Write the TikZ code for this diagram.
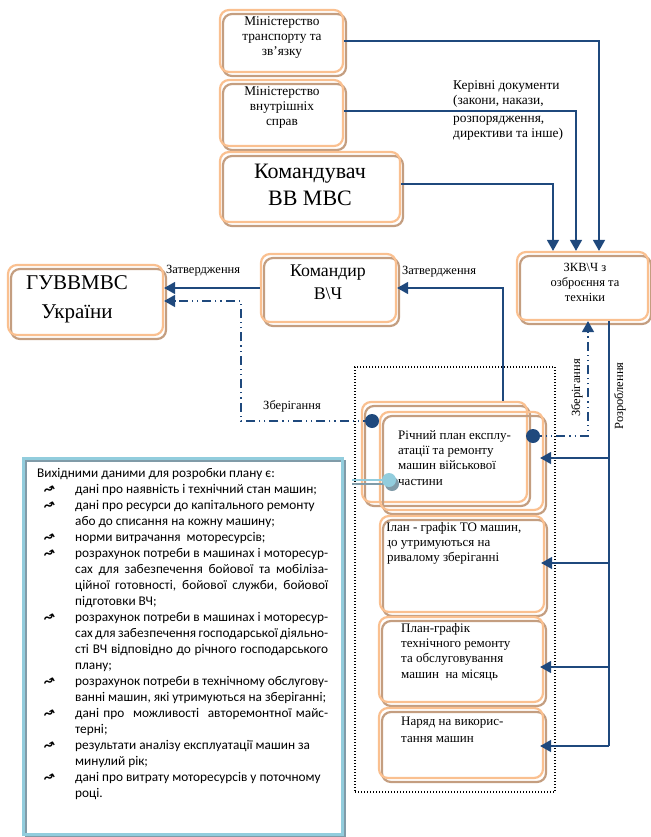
\documentclass[tikz,border=0pt]{standalone}
\usepackage{fontspec}
\setmainfont{Liberation Serif}
\newfontfamily\carl{Carlito}
\newfontfamily\dejavu{DejaVu Sans}
\usetikzlibrary{arrows.meta,calc}
\definecolor{bluec}{RGB}{31,73,125}
\definecolor{orangec}{RGB}{250,192,144}
\definecolor{brownc}{RGB}{196,158,128}
\definecolor{lblue}{RGB}{146,205,221}
\definecolor{lgrey}{RGB}{128,155,168}
\newcommand\bulglyph{{\dejavu\bfseries\fontsize{13}{13}\selectfont\rotatebox[origin=c]{30}{↝}}}
\newcommand\itmb{\hspace*{6pt}\makebox[32pt][l]{\bulglyph}}
\newcommand\cntl{\hspace*{38pt}}
\newcommand\jln[1]{\makebox[253pt][s]{#1}}
\tikzset{
  obox/.style={draw=orangec, line width=2.2pt, rounded corners=9pt, inner sep=0pt,
    preaction={draw=brownc, line width=2.2pt, transform canvas={shift={(3pt,-4pt)}}}},
  ctxt/.style={inner sep=0pt, align=center, font=\fontsize{13.3}{15}\selectfont},
  ptxt/.style={inner sep=0pt, align=left, font=\fontsize{13}{15.3}\selectfont},
  lbl/.style={inner sep=0pt, font=\fontsize{12.5}{15}\selectfont},
  bl/.style={draw=bluec, line width=1.5pt},
  arr/.style={-{Triangle[length=11pt,width=12pt]}},
  dd/.style={draw=bluec, line width=1.5pt, dash pattern=on 9pt off 4pt on 1.2pt off 4pt on 1.2pt off 4pt},
  dot/.style={circle, fill=bluec, minimum size=14pt, inner sep=0pt},
}
\begin{document}
\begin{tikzpicture}[x=1pt,y=-1pt]
\useasboundingbox (0,0) rectangle (650,837);

% top boxes
\node[obox,minimum width=123pt,minimum height=62pt] (mt) at (281.5,41) {};
\node[ctxt] (mtt) at (282,38) {Міністерство\\транспорту та\\зв’язку};
\node[obox,minimum width=123pt,minimum height=66pt] (mv) at (281.5,113) {};
\node[ctxt] (mvt) at (282,108) {Міністерство\\внутрішніх\\справ};
\node[obox,minimum width=180pt,minimum height=70pt] (kv) at (310,187) {};
\node[ctxt,font=\fontsize{22}{27}\selectfont] (kvt) at (310,185) {Командувач\\ВВ МВС};

\node[lbl, anchor=north west, align=left, font=\fontsize{13.4}{15.5}\selectfont] (kd) at (453,80)
  {Керівні документи\\(закони, накази,\\[2pt]розпорядження,\\директиви та інше)};

% ZKV
\node[obox,minimum width=131pt,minimum height=68pt] (zkv) at (582.5,286) {};
\node[ctxt,font=\fontsize{12.5}{15}\selectfont] (zkvt) at (585,282) {ЗКВ\textbackslash Ч з\\озброєння та\\техніки};

% Komandyr
\node[obox,minimum width=135pt,minimum height=68pt] (kom) at (328.5,288) {};
\node[ctxt,font=\fontsize{17.8}{23}\selectfont] (komt) at (328,282) {Командир\\В\textbackslash Ч};

% GUVVMVS
\node[obox,minimum width=155pt,minimum height=70pt] (guv) at (85.5,300) {};
\node[ctxt,font=\fontsize{21}{29}\selectfont] (guvt) at (77,299) {ГУВВМВС\\України};

% labels
\node[lbl, anchor=west] (z1) at (166,271) {Затвердження};
\node[lbl, anchor=west] (z2) at (402,272) {Затвердження};
\node[lbl] (zb1) at (292,406) {Зберігання};
\node[lbl, rotate=90] (zb2) at (577,388) {Зберігання};
\node[lbl, rotate=90] (rzl) at (620,396) {Розроблення};

% dotted frame
\node[draw, line width=1.1pt, dash pattern=on 1pt off 2pt, minimum width=200pt, minimum height=425pt, inner sep=0pt] (dots) at (455,579.5) {};

% plan boxes
\node[obox,minimum width=165pt,minimum height=100pt] (pA) at (444.5,452) {};
\node[obox,minimum width=163pt,minimum height=98pt] (pB) at (461.5,461) {};
\node[ptxt, anchor=north west] (pt) at (398,430) {Річний план експлу-\\атації та ремонту\\машин військової\\частини};

\node[obox,minimum width=164pt,minimum height=96pt] (b2) at (462,564) {};
\begin{scope}
\clip (387,500) rectangle (560,620);
\node[ptxt, anchor=north west] (b2t) at (381,522) {План - графік ТО машин,\\що утримуються на\\тривалому зберіганні};
\end{scope}

\node[obox,minimum width=164pt,minimum height=85pt] (b3) at (461,659.5) {};
\node[ptxt, anchor=north west] (b3t) at (401,623) {План-графік\\технічного ремонту\\та обслуговування\\машин \ на місяць};

\node[obox,minimum width=164pt,minimum height=70pt] (b4) at (461,743) {};
\node[ptxt, anchor=north west, font=\fontsize{13}{17}\selectfont] (b4t) at (401,717) {Наряд на викорис-\\тання машин};

% left text box
\node[draw=lgrey, line width=2pt, minimum width=319pt, minimum height=376pt, inner sep=0pt] (tbs) at (185.5,649) {};
\node[draw=lblue, line width=3pt, minimum width=319pt, minimum height=376pt, inner sep=0pt] (tb) at (182.5,646) {};
\node[anchor=north west, inner sep=0pt, align=left, font=\carl\fontsize{13.3}{16}\selectfont] (tbt) at (37,468) {%
Вихідними даними для розробки плану є:\\
\itmb дані про наявність і технічний стан машин;\\
\itmb дані про ресурси до капітального ремонту\\
\cntl або до списання на кожну машину;\\
\itmb норми витрачання \ моторесурсів;\\
\itmb \jln{розрахунок потреби в машинах і моторесур-}\\
\cntl \jln{сах для забезпечення бойової та мобіліза-}\\
\cntl \jln{ційної готовності, бойової служби, бойової}\\
\cntl підготовки ВЧ;\\
\itmb \jln{розрахунок потреби в машинах і моторесур-}\\
\cntl \jln{сах для забезпечення господарської діяльно-}\\
\cntl \jln{сті ВЧ відповідно до річного господарського}\\
\cntl плану;\\
\itmb \jln{розрахунок потреби в технічному обслугову-}\\
\cntl ванні машин, які утримуються на зберіганні;\\
\itmb \jln{дані про \ можливості \ авторемонтної майс-}\\
\cntl терні;\\
\itmb результати аналізу експлуатації машин за\\
\cntl минулий рік;\\
\itmb дані про витрату моторесурсів у поточному\\
\cntl році.};

% coordinates
\coordinate (lc) at (372,421);
\coordinate (rc) at (533,436);
\coordinate (dl) at (241,301);
\coordinate (rtop) at ($(zkv.south)+(26.5,0)$);
\coordinate (r1) at (609,458);
\coordinate (r2) at (609,563);
\coordinate (r3) at (609,667);
\coordinate (r4) at (609,746);
\coordinate (lbs) at (352,480);
\coordinate (lbss) at (352,484);

% connectors
\draw[bl,arr] (mt.east) -| ($(zkv.north)+(16.5,0)$);
\draw[bl,arr] ($(mv.east)+(0,-2)$) -| ($(zkv.north)+(-6.5,0)$);
\draw[bl,arr] ($(kv.east)+(0,-3)$) -| ($(zkv.north)+(-29.5,0)$);
\draw[bl,arr] (kom.west) -- (kom.west -| guv.east);
\draw[bl,arr] ($(pA.north)+(58.5,0)$) |- (kom.east);
\draw[dd,arr] (lc) -| (dl) -- (dl -| guv.east);
\draw[dd,arr] (rc) -| ($(zkv.south)+(5.5,0)$);
\draw[bl] (rtop) -- (r4);
\draw[bl,arr] (r1) -- ($(r1 -| pB.east)+(-4,0)$);
\draw[bl,arr] (r2) -- ($(r2 -| b2.east)+(-4,0)$);
\draw[bl,arr] (r3) -- ($(r3 -| b3.east)+(-4,0)$);
\draw[bl,arr] (r4) -- ($(r4 -| b4.east)+(-4,0)$);

% circles
\node[dot] (lcd) at (lc) {};
\node[dot] (rcd) at (rc) {};
\node[circle, fill=lgrey, minimum size=14pt, inner sep=0pt] (lbsh) at (392,484) {};
\draw[lgrey, line width=2pt] (lbss) -- (lbsh);
\node[circle, fill=lblue, minimum size=14pt, inner sep=0pt] (lbc) at (389,480) {};
\draw[lblue, line width=2pt] (lbs) -- (lbc);
\end{tikzpicture}
\end{document}
